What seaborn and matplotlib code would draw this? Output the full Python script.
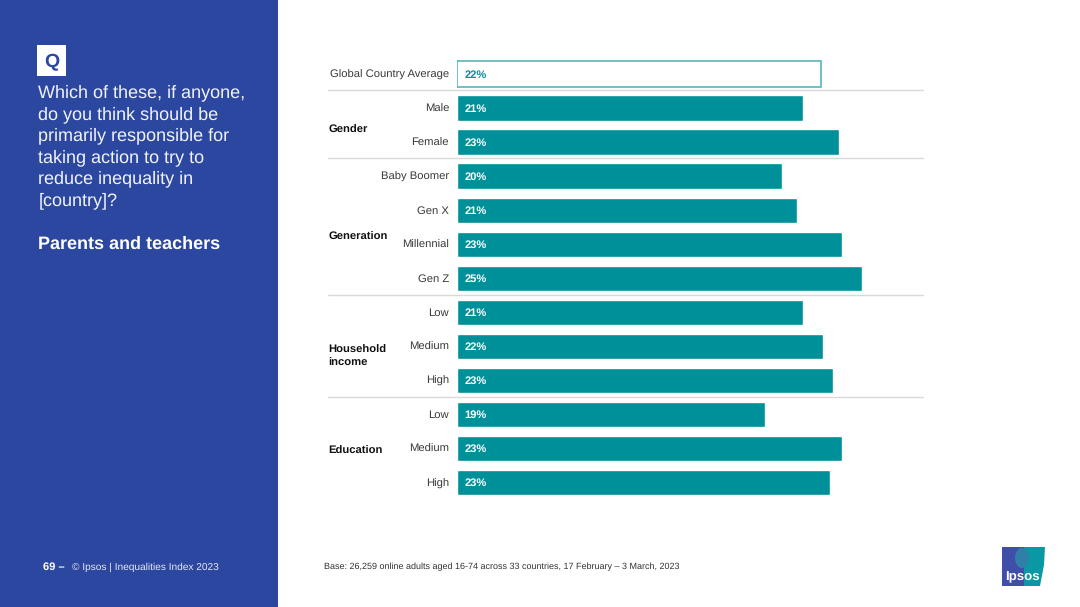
import matplotlib
matplotlib.use("Agg")
import matplotlib.pyplot as plt
from matplotlib.patches import Rectangle, Polygon, Ellipse
from matplotlib.transforms import blended_transform_factory
import pandas as pd
import seaborn as sns

categories = ["Global Country Average", "Male", "Female", "Baby Boomer", "Gen X", "Millennial",
              "Gen Z", "Low", "Medium", "High", "Low", "Medium", "High"]
values = [22.15, 21.05, 23.25, 19.8, 20.7, 23.48, 24.65, 21.05, 22.3, 22.9, 18.75, 23.48, 22.75]
groups = ["Gender", "Generation", "Household\nincome", "Education"]
group_pos = [1.65, 4.8, 8.31, 11.09]
separators = [0.47, 2.47, 6.49, 9.5]
question = ("Which of these, if anyone,\ndo you think should be\nprimarily responsible for\n"
            "taking action to try to\nreduce inequality in\n[country]?")
subtitle = "Parents and teachers"
footnote = "Base: 26,259 online adults aged 16-74 across 33 countries, 17 February \u2013 3 March, 2023"

BLUE = "#2c479f"
TEAL = "#009099"
W, H = 1080, 607

sns.set_theme(style="white")
plt.rcParams["font.family"] = ["Liberation Sans", "DejaVu Sans"]
plt.rcParams["text.hinting"] = "no_hinting"
plt.rcParams["text.hinting_factor"] = 8
fig = plt.figure(figsize=(W / 100, H / 100), dpi=100, facecolor="white")


def fx(p):
    return p / W


def fy(p):
    return 1 - p / H


fig.add_artist(Rectangle((0, 0), fx(278), 1, transform=fig.transFigure, color=BLUE, lw=0))

ax = fig.add_axes([fx(457.3), fy(499.3), fx(466), (499.3 - 57) / H])
df = pd.DataFrame({"row": list(range(len(values))), "value": values})
sns.barplot(data=df, y="row", x="value", orient="h", color=TEAL,
            width=0.74, saturation=1, ax=ax)
ax.set_yticks(range(len(categories)))
ax.set_yticklabels(categories)
ax.set_xlim(0, 466 / 16.4)
ax.set_ylim(12.5, -0.5)
ax.set_xlabel("")
ax.set_ylabel("")
ax.set_xticks([])
ax.tick_params(axis="y", length=0, pad=6.0, labelsize=8.15, labelcolor="#3a3a3a")
sns.despine(ax=ax, left=True, bottom=True)
ax.patch.set_alpha(0)

first = ax.patches[0]
first.set_facecolor("white")
first.set_edgecolor("#55b5bb")
first.set_linewidth(1.2)

for i, v in enumerate(values):
    ax.text(0.42, i + 0.03, f"{v:.0f}%", va="center", ha="left", fontsize=8.0, fontweight="bold",
            color=TEAL if i == 0 else "white")

trans = blended_transform_factory(fig.transFigure, ax.transData)
for s in separators:
    ax.plot([fx(328), fx(923)], [s, s], transform=trans, color="#d9d9d9", lw=1.0, clip_on=False)
for g, p in zip(groups, group_pos):
    ax.text(fx(328.5), p, g, transform=trans, fontsize=8.1, fontweight="bold", color="#111111",
            va="center", ha="left", linespacing=1.3)

fig.add_artist(Rectangle((fx(37), fy(76)), fx(29), 31 / H, transform=fig.transFigure, color="white", lw=0))
fig.text(fx(51.5), fy(62), "Q", color=BLUE, fontsize=14, fontweight="bold", ha="center", va="center")
fig.text(fx(38.5), fy(84.5), question, color="#f2f4fa", fontsize=13, ha="left", va="top", linespacing=1.36)
fig.text(fx(38.5), fy(244), subtitle, color="white", fontsize=13, fontweight="bold", ha="left", va="center")

fig.text(fx(43), fy(567), "69 \u2013", color="white", fontsize=8, fontweight="bold", ha="left", va="center")
fig.text(fx(72), fy(567), "\u00a9 Ipsos | Inequalities Index 2023", color="#e6e9f5", fontsize=7.3,
         ha="left", va="center")
fig.text(fx(324), fy(566.5), footnote, color="#333333", fontsize=6.5, ha="left", va="center")

# Ipsos logo
fig.add_artist(Polygon([(fx(1002), fy(547)), (fx(1024), fy(547)), (fx(1024), fy(586)), (fx(1002), fy(586))],
                       transform=fig.transFigure, color="#3f4fa8", lw=0))
fig.add_artist(Polygon([(fx(1024), fy(547)), (fx(1045), fy(547)), (fx(1044), fy(565)), (fx(1040), fy(586)),
                        (fx(1024), fy(586))], transform=fig.transFigure, color="#0a98a5", lw=0))
fig.add_artist(Ellipse((fx(1022), fy(558)), 14 / W, 20 / H, transform=fig.transFigure, color="#2f7fa8", lw=0))
fig.text(fx(1022.5), fy(577), "Ipsos", color="white", fontsize=9.5, fontweight="bold", ha="center", va="center")

fig.savefig("out.png", dpi=100, facecolor="white")
